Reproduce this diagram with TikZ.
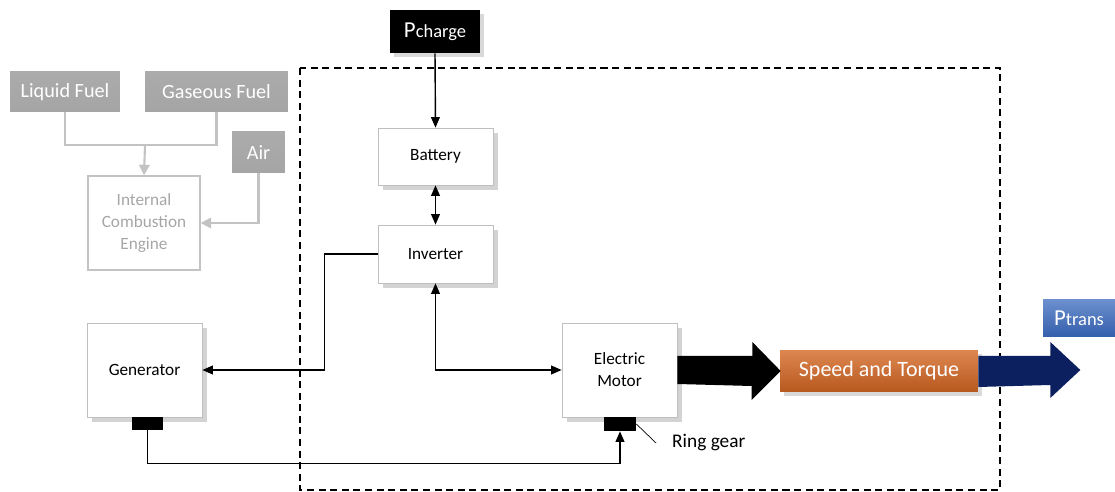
\documentclass[tikz,border=0pt]{standalone}
\usepackage{fontspec}
\setmainfont{Carlito}
\usetikzlibrary{arrows.meta, positioning, shadows, calc}
\definecolor{fuelgray}{RGB}{150,150,150}
\definecolor{linegray}{RGB}{195,195,195}
\definecolor{torqueorange}{RGB}{214,104,36}
\definecolor{transnavy}{RGB}{12,32,96}
\definecolor{transblue}{RGB}{58,105,190}

\tikzset{
  unitbox/.style={draw=black!25, fill=white, drop shadow={opacity=0.35, shadow xshift=0.6ex, shadow yshift=-0.6ex},
    minimum width=2.3cm, align=center, inner sep=1pt, font=\fontsize{9.8}{12.5}\selectfont},
  inputbox/.style={fill=fuelgray, top color=fuelgray!80, bottom color=fuelgray!110!black, text=white,
    minimum height=0.8cm, inner sep=1pt, font=\fontsize{11.5}{13}\selectfont},
  fuelline/.style={linegray, line width=1.2pt},
  sig/.style={thick, -{Triangle[length=6pt,width=5pt]}},
  bisig/.style={thick, {Triangle[length=6pt,width=5pt]}-{Triangle[length=6pt,width=5pt]}},
  ringbox/.style={fill=black, minimum width=0.62cm, minimum height=0.26cm, inner sep=0pt}
}

\begin{document}
\begin{tikzpicture}[x=0.02cm, y=-0.02cm]
  \useasboundingbox (0,0) rectangle (1115,492);
  % Hybrid drive boundary
  \draw[line width=0.8pt, dash pattern=on 4pt off 2.6pt] (300,68) rectangle (1000,490);
  % Engine side (greyed out)
  \node[inputbox, minimum width=2.2cm] (liquid) at (65,92) {Liquid Fuel};
  \node[inputbox, minimum width=2.86cm] (gaseous) at (216.5,92) {Gaseous Fuel};
  \node[inputbox, minimum width=1.06cm, minimum height=0.82cm] (air) at (258.5,152.5) {Air};
  \node[draw=linegray, thick, text=black!35, minimum width=2.24cm, minimum height=1.88cm, align=center,
    font=\fontsize{9.8}{12.5}\selectfont] (ice) at (144,223) {Internal\\Combustion\\Engine};
  \coordinate (fuelmerge) at (145,145);
  \draw[fuelline] (liquid.south) |- (fuelmerge) -| (gaseous.south);
  \draw[fuelline, -{Triangle[length=6pt,width=6pt]}] (fuelmerge) -- (ice.north);
  \draw[fuelline, -{Triangle[length=6pt,width=6pt]}] (air.south) |- (ice.east);
  % Electric side
  \node[fill=black, text=white, minimum width=1.8cm, minimum height=0.86cm, inner sep=1pt,
    drop shadow={opacity=0.3}] (pcharge) at (435,31.5) {{\fontsize{13}{14}\selectfont P}{\fontsize{10.5}{12}\selectfont charge}};
  \node[unitbox, minimum height=1.14cm] (battery) at (435.5,156.5) {Battery};
  \node[unitbox, minimum height=1.16cm] (inverter) at (435.5,254) {Inverter};
  \node[unitbox, minimum height=1.88cm] (generator) at (144.5,370) {Generator};
  \node[unitbox, minimum height=1.88cm] (motor) at (619.5,370) {Electric\\Motor};
  \node[ringbox] (genring) at (147.5,423.5) {};
  \node[ringbox, minimum width=0.64cm, minimum height=0.28cm] (motorring) at (620,424) {};
  \node[font=\fontsize{11}{13}\selectfont, anchor=west] (ringlabel) at (666,443) {Ring gear};
  % Connectors
  \draw[sig] (pcharge.south) -- (battery.north);
  \draw[bisig] (battery.south) -- (inverter.north);
  \draw[sig] (inverter.west) -- ++(-53,0) |- (generator.east);
  \draw[bisig] (inverter.south) |- (motor.west);
  \draw[sig] (genring.south) -- ++(0,33) -| (motorring.south);
  \draw (motorring.east) -- ([xshift=-0.2cm]ringlabel.west);
  % Output
  \node[top color=torqueorange!80!white, bottom color=torqueorange!85!black, text=white, minimum width=3.96cm,
    minimum height=0.84cm, inner sep=1pt, drop shadow={opacity=0.3},
    font=\fontsize{12.5}{14}\selectfont] (speed) at (879,371) {Speed and Torque};
  \node[top color=transblue!75!white, bottom color=transblue!90!black, text=white, minimum width=1.44cm,
    minimum height=0.74cm, inner sep=1pt] (ptrans) at (1079,318.5) {{\fontsize{13}{14}\selectfont P}{\fontsize{10.5}{12}\selectfont trans}};
  % Power flow arrows
  \fill (motor.east) ++(0,-14) -- ++(75,0) -- ++(0,-14) -- ($(speed.west)+(1,0)$)
    -- ++(-29,29) -- ++(0,-14) -- ($(motor.east)+(0,14)$) -- cycle;
  \fill[transnavy] (speed.east) ++(0,-15) -- ++(72,0) -- ++(0,-14) -- ($(speed.east)+(102,-1)$)
    -- ++(-30,28) -- ++(0,-13) -- ($(speed.east)+(0,16)$) -- cycle;
\end{tikzpicture}
\end{document}
